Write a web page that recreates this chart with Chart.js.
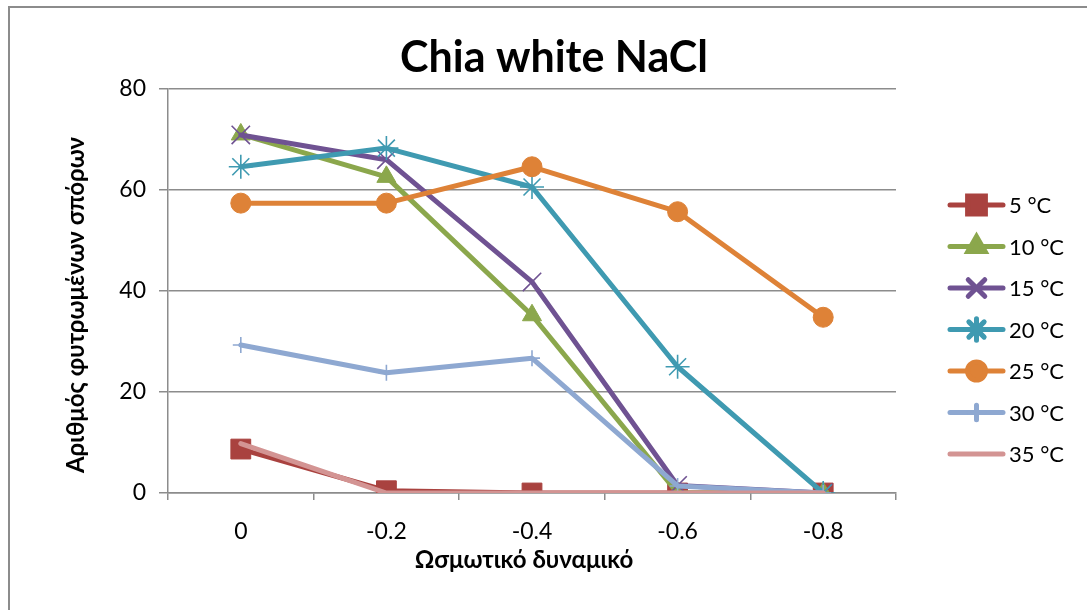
<!DOCTYPE html>
<html>
<head>
<meta charset="utf-8">
<script src="https://cdn.jsdelivr.net/npm/chart.js@4/dist/chart.umd.min.js"></script>
<style>
  html, body { margin: 0; padding: 0; background: #ffffff; }
  #wrap { width: 1087px; height: 610px; position: relative; }
</style>
</head>
<body>
<div id="wrap"><canvas id="c" width="1087" height="610"></canvas></div>
<script>
const chartTitle = 'Chia white NaCl';
const xTitle = 'Ωσμωτικό δυναμικό';
const yTitle = 'Αριθμός φυτρωμένων σπόρων';
const categories = ['0', '-0.2', '-0.4', '-0.6', '-0.8'];
const seriesNames = ['5 °C', '10 °C', '15 °C', '20 °C', '25 °C', '30 °C', '35 °C'];
const s5  = [8.7, 0.45, 0, 0, 0];
const s10 = [71, 62.6, 35.2, 0, 0];
const s15 = [70.9, 66, 41.8, 1.5, 0];
const s20 = [64.6, 68.3, 60.6, 25.0, 0];
const s25 = [57.4, 57.4, 64.6, 55.7, 34.8];
const s30 = [29.3, 23.8, 26.7, 1.4, 0];
const s35 = [9.8, 0, 0, 0, 0];
const yTicks = [0, 20, 40, 60, 80];

const seriesValues = [s5, s10, s15, s20, s25, s30, s35];
const colors = ['#A9423F', '#8BA74C', '#6F5292', '#3F9AB1', '#DE8237', '#8EA8D1', '#D39493'];
const styles = [
  { pointStyle: 'rect', r: 14, bw: 1 },
  { pointStyle: 'triangle', r: 11, bw: 1 },
  { pointStyle: 'crossRot', r: 13, bw: 1.6 },
  { pointStyle: 'star', r: 12, bw: 1.6 },
  { pointStyle: 'circle', r: 10, bw: 1 },
  { pointStyle: 'cross', r: 8, bw: 1.6 },
  { pointStyle: false, r: 0, bw: 0 }
];
const FONT = 'Lato, "Open Sans", "Noto Sans", sans-serif';

const datasets = seriesNames.map((name, i) => ({
  label: name,
  data: seriesValues[i],
  borderColor: colors[i],
  backgroundColor: colors[i],
  borderWidth: 5,
  borderJoinStyle: 'round',
  borderCapStyle: 'round',
  tension: 0,
  pointStyle: styles[i].pointStyle || 'circle',
  pointRadius: styles[i].pointStyle ? styles[i].r : 0,
  pointHoverRadius: styles[i].pointStyle ? styles[i].r : 0,
  pointBorderWidth: styles[i].bw,
  pointBorderColor: colors[i],
  pointBackgroundColor: colors[i],
  order: 10 - i
}));

const decor = {
  id: 'decor',
  beforeDraw(chart) {
    const ctx = chart.ctx;
    ctx.save();
    ctx.fillStyle = '#ffffff';
    ctx.fillRect(0, 0, chart.width, chart.height);
    ctx.restore();
  },
  afterDraw(chart) {
    const ctx = chart.ctx;
    ctx.save();
    // outer border
    ctx.strokeStyle = '#8c8c8c';
    ctx.lineWidth = 2;
    ctx.strokeRect(9, 7, 1200, 800);
    // title
    ctx.fillStyle = '#000000';
    ctx.textAlign = 'center';
    ctx.textBaseline = 'middle';
    ctx.font = 'bold 43px ' + FONT;
    ctx.fillText(chartTitle, 554, 58);
    // x title
    ctx.font = 'bold 24px ' + FONT;
    ctx.fillText(xTitle, 524, 560);
    // y title
    ctx.save();
    ctx.translate(76, 305);
    ctx.rotate(-Math.PI / 2);
    ctx.font = 'bold 24px ' + FONT;
    ctx.fillText(yTitle, 0, 0);
    ctx.restore();
    // legend
    const x0 = 950, x1 = 1003, xm = 976.5;
    seriesNames.forEach((name, i) => {
      const y = 205 + i * 41.5;
      ctx.strokeStyle = colors[i];
      ctx.lineWidth = 5;
      ctx.lineCap = 'round';
      ctx.beginPath();
      ctx.moveTo(x0, y);
      ctx.lineTo(x1, y);
      ctx.stroke();
      if (styles[i].pointStyle) {
        ctx.fillStyle = colors[i];
        ctx.strokeStyle = colors[i];
        Chart.helpers.drawPoint(ctx, {
          pointStyle: styles[i].pointStyle,
          radius: styles[i].r * 0.9,
          rotation: 0,
          borderWidth: styles[i].bw
        }, xm, y);
      }
      ctx.fillStyle = '#000000';
      ctx.textAlign = 'left';
      ctx.textBaseline = 'middle';
      ctx.font = '22px ' + FONT;
      ctx.fillText(name, 1009, y + 1);
    });
    ctx.restore();
  }
};

new Chart(document.getElementById('c'), {
  type: 'line',
  data: { labels: categories, datasets: datasets },
  options: {
    responsive: false,
    animation: false,
    devicePixelRatio: 1,
    layout: { padding: { left: 0, top: 89, right: 191, bottom: 0 } },
    plugins: { legend: { display: false }, title: { display: false }, tooltip: { enabled: false } },
    scales: {
      x: {
        offset: true,
        grid: { offset: true, drawOnChartArea: false, drawTicks: true, tickLength: 7, color: '#8c8c8c', lineWidth: 1.5 },
        border: { display: true, color: '#8c8c8c', width: 1.5 },
        ticks: { color: '#000000', font: { family: FONT, size: 23 }, padding: 18, maxRotation: 0 },
        afterFit(scale) { scale.height = 117; }
      },
      y: {
        min: 0, max: 80,
        afterBuildTicks(scale) { scale.ticks = yTicks.map(v => ({ value: v })); },
        grid: { color: '#8c8c8c', lineWidth: 1.5, tickLength: 9 },
        border: { display: true, color: '#8c8c8c', width: 1.5 },
        ticks: { color: '#000000', font: { family: FONT, size: 23 }, padding: 13 },
        afterFit(scale) { scale.width = 168; }
      }
    }
  },
  plugins: [decor]
});
</script>
</body>
</html>
